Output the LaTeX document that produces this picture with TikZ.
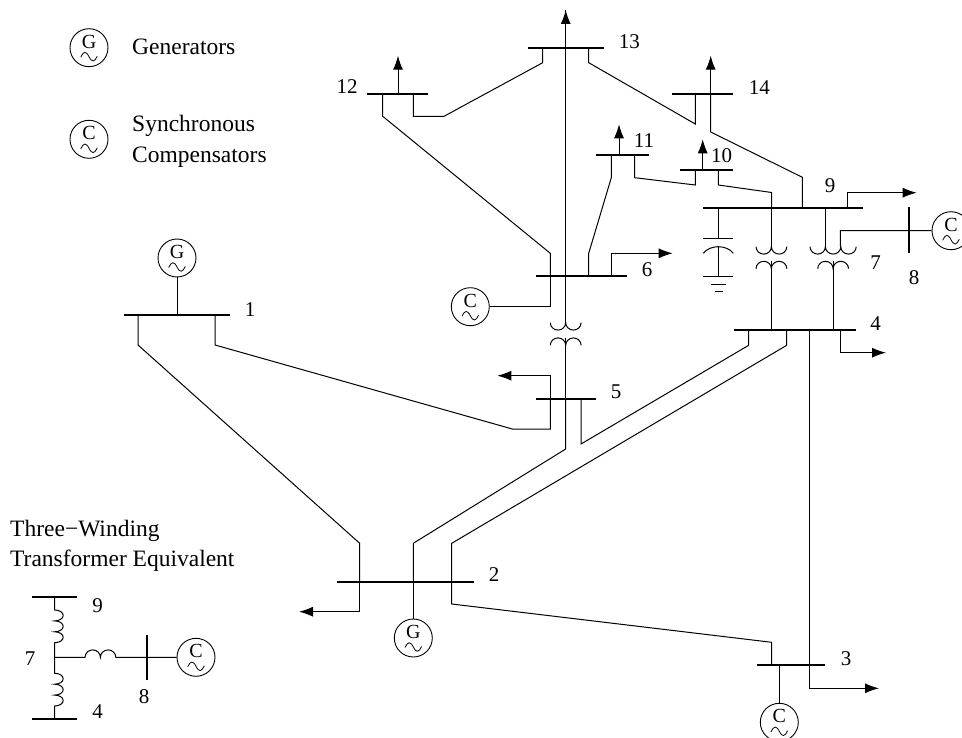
\documentclass[tikz,border=0pt]{standalone}
\usepackage{fontspec}
\setmainfont{Liberation Serif}
\usetikzlibrary{arrows.meta}

\tikzset{
  bar/.style={fill=black, inner sep=0pt, minimum height=2pt},
  vbar/.style={fill=black, inner sep=0pt, minimum width=2.4pt},
  machine/.style={circle, draw, line width=0.9pt, inner sep=0pt, minimum size=38pt,
    font=\fontsize{20}{20}\selectfont, text height=14pt, text depth=13pt},
  wave/.pic={\draw[line width=0.8pt] (-8.3,9.5) .. controls (-5.5,3.5) and (-3,3) .. (0,9)
    .. controls (3,15) and (5.5,14.5) .. (8.3,8.5);},
  lbl/.style={font=\fontsize{21}{21}\selectfont, inner sep=0pt},
  txt/.style={font=\fontsize{23.5}{23.5}\selectfont, inner sep=0pt, anchor=base west},
  wire/.style={line width=1pt},
  loadarrow/.style={line width=1pt, -{Latex[length=14pt, width=10pt]}},
  coilcup/.style={start angle=180, end angle=360, x radius=7.7pt, y radius=7.4pt},
  coilcap/.style={start angle=180, end angle=0, x radius=7.7pt, y radius=7.4pt},
  coildown/.style={start angle=90, end angle=-90, x radius=8.5pt, y radius=5.45pt}
}

\begin{document}
\begin{tikzpicture}[x=1pt, y=-1pt]

\useasboundingbox (0,0) rectangle (962,738);
\clip (0,0) rectangle (962,738);

% bus bars
\node[bar, minimum width=106pt] (bus1) at (177,315) {};
\node[bar, minimum width=137pt] (bus2) at (405.5,581.7) {};
\node[bar, minimum width=68pt] (bus3) at (790.8,665) {};
\node[bar, minimum width=122pt] (bus4) at (794.5,330) {};
\node[bar, minimum width=60pt] (bus5) at (565.8,398.7) {};
\node[bar, minimum width=91pt] (bus6) at (581.2,276.3) {};
\node[vbar, minimum height=46pt] (bus8) at (909,230.5) {};
\node[bar, minimum width=160pt] (bus9) at (783.2,207.7) {};
\node[bar, minimum width=53pt] (bus10) at (706.8,169.7) {};
\node[bar, minimum width=53pt] (bus11) at (622.8,154.7) {};
\node[bar, minimum width=61pt] (bus12) at (397.8,93.7) {};
\node[bar, minimum width=76pt] (bus13) at (565.7,47.7) {};
\node[bar, minimum width=61pt] (bus14) at (702.8,93.7) {};

% machines
\node[machine] (g1) at (177,258) {G};
\node[machine] (g2) at (413.3,638) {G};
\node[machine] (c3) at (779.3,722.3) {C};
\node[machine] (c6) at (470.3,306.7) {C};
\node[machine] (c8) at (951,230.7) {C};
\pic at (g1) {wave};
\pic at (g2) {wave};
\pic at (c3) {wave};
\pic at (c6) {wave};
\pic at (c8) {wave};

% bus numbers
\node[lbl] (n1) at (250,310) {1};
\node[lbl] (n2) at (494,575) {2};
\node[lbl] (n3) at (846,659) {3};
\node[lbl] (n4) at (875.7,323.5) {4};
\node[lbl] (n5) at (616,392) {5};
\node[lbl] (n6) at (647,270) {6};
\node[lbl] (n7) at (875.7,262.7) {7};
\node[lbl] (n8) at (914,277.7) {8};
\node[lbl] (n9) at (830,186) {9};
\node[lbl] (n10) at (721.7,155.7) {10};
\node[lbl] (n11) at (644,140.7) {11};
\node[lbl] (n12) at (347,87) {12};
\node[lbl] (n13) at (629.3,41.7) {13};
\node[lbl] (n14) at (759.3,87.3) {14};

% bends of the lines
\coordinate (a1) at (138,345);
\coordinate (a2) at (359.7,543.3);
\coordinate (b1) at (215,345);
\coordinate (b2) at (512.3,429);
\coordinate (b3) at (550.3,429);
\coordinate (c1) at (413.3,543.3);
\coordinate (c2) at (565.7,449);
\coordinate (d1) at (581,444);
\coordinate (d2) at (748.7,345.3);
\coordinate (e1) at (451.7,543.3);
\coordinate (e2) at (786.7,345.3);
\coordinate (f1) at (451.7,604);
\coordinate (f2) at (771.7,642.3);
\coordinate (h1) at (550.3,253.3);
\coordinate (h2) at (382.7,116.3);
\coordinate (j1) at (588.7,253.3);
\coordinate (j2) at (611.3,177.7);
\coordinate (k1) at (413.3,116.3);
\coordinate (k2) at (444,116.3);
\coordinate (k3) at (542.7,62.7);
\coordinate (l1) at (588.7,62.7);
\coordinate (l2) at (695.3,124);
\coordinate (m1) at (634.7,177.7);
\coordinate (m2) at (695.3,185);
\coordinate (o1) at (718.3,185);
\coordinate (o2) at (771.7,192.5);
\coordinate (p1) at (710.7,132);
\coordinate (p2) at (802.3,177.3);
\coordinate (r1) at (809.7,688.3);

% lines
\draw[wire] (a1 |- bus1) -- (a1) -- (a2) -- (a2 |- bus2);
\draw[wire] (b1 |- bus1) -- (b1) -- (b2) -- (b3) -- (b3 |- bus5);
\draw[wire] (c1 |- bus2) -- (c1) -- (c2) -- (c2 |- bus5);
\draw[wire] (d1 |- bus5) -- (d1) -- (d2) -- (d2 |- bus4);
\draw[wire] (e1 |- bus2) -- (e1) -- (e2) -- (e2 |- bus4);
\draw[wire] (e1 |- bus2) -- (f1) -- (f2) -- (f2 |- bus3);
\draw[wire] (h1 |- bus6) -- (h1) -- (h2) -- (h2 |- bus12);
\draw[wire] (j1 |- bus6) -- (j1) -- (j2) -- (j2 |- bus11);
\draw[wire] (k1 |- bus12) -- (k1) -- (k2) -- (k3) -- (k3 |- bus13);
\draw[wire] (l1 |- bus13) -- (l1) -- (l2) -- (l2 |- bus14);
\draw[wire] (m1 |- bus11) -- (m1) -- (m2) -- (m2 |- bus10);
\draw[wire] (o1 |- bus10) -- (o1) -- (o2) -- (o2 |- bus9);
\draw[wire] (p1 |- bus14) -- (p1) -- (p2) -- (p2 |- bus9);

% machines to buses
\draw[wire] (g1) -- (bus1);
\draw[wire] (c1 |- bus2) -- (g2);
\draw[wire] (c3 |- bus3) -- (c3);
\draw[wire] (h1 |- bus6) -- (h1 |- c6) -- (c6);

% loads
\coordinate (q2) at (299,611.7);
\coordinate (q3) at (879,688.3);
\coordinate (q4) at (886,352.7);
\coordinate (q5) at (497.3,375.7);
\coordinate (q6) at (672.7,253.3);
\coordinate (q9) at (916.7,192.7);
\coordinate (q10) at (702.7,139.3);
\coordinate (q11) at (619,124.3);
\coordinate (q12) at (398,55.7);
\coordinate (q13) at (565.7,10);
\coordinate (q14) at (710.7,55.7);
\draw[loadarrow] (a2 |- bus2) -- (a2 |- q2) -- (q2);
\draw[loadarrow] (r1 |- bus4) -- (r1) -- (q3);
\draw[loadarrow] (840,330) -- (840,352.7) -- (q4);
\draw[loadarrow] (b3 |- bus5) -- (b3 |- q5) -- (q5);
\draw[loadarrow] (611.7,276.3) -- (611.7,253.3) -- (q6);
\draw[loadarrow] (847.7,207.7) -- (847.7,192.7) -- (q9);
\draw[loadarrow] (q10 |- bus10) -- (q10);
\draw[loadarrow] (q11 |- bus11) -- (q11);
\draw[loadarrow] (q12 |- bus12) -- (q12);
\draw[loadarrow] (q13 |- bus13) -- (q13);
\draw[loadarrow] (q14 |- bus14) -- (q14);

% transformer 4-9
\draw[wire] (771.7,192.5) -- (771.7,246.7);
\draw[wire] (756,246.7) arc[coilcup] arc[coilcup];
\draw[wire] (756,268.7) arc[coilcap] arc[coilcap];
\draw[wire] (771.7,261.5) -- (771.7,330);

% transformer 4-7-9 with bus 8
\draw[wire] (825,207.7) -- (825,246.7);
\draw[wire] (810,246.7) arc[coilcup] arc[coilcup] arc[coilcup];
\draw[wire] (817.7,268.7) arc[coilcap] arc[coilcap];
\draw[wire] (833,261.5) -- (833,330);
\draw[wire] (840.3,246.7) -- (840.3,230.7) -- (bus8.center) -- (c8);

% transformer 5-6
\draw[wire] (q13) -- (565.7,322.7);
\draw[wire] (550.3,322.7) arc[coilcup] arc[coilcup];
\draw[wire] (550.3,345.3) arc[coilcap] arc[coilcap];
\draw[wire] (565.7,338) -- (c2);

% capacitor on bus 9
\draw[wire] (718.3,207.7) -- (718.3,238.3);
\draw[wire] (703.3,238.3) -- (733.3,238.3);
\draw[wire] (703.3,253.3) .. controls (710,244.5) and (726.6,244.5) .. (733.3,253.3);
\draw[wire] (718.3,247) -- (718.3,276.7);
\draw[wire] (703.3,276.7) -- (733.3,276.7);
\draw[wire] (710.7,284.3) -- (726,284.3);
\draw[wire] (715,291.7) -- (722.7,291.7);

% legend
\node[machine] (legg) at (89,47.7) {G};
\node[machine] (legc) at (89,139.3) {C};
\pic at (legg) {wave};
\pic at (legc) {wave};
\node[txt] (tgen) at (132,55) {Generators};
\node[txt] (tsyn) at (132,131.7) {Synchronous};
\node[txt] (tcom) at (132,162.3) {Compensators};

% three winding equivalent
\node[txt] (tthr) at (10,536) {Three−Winding};
\node[txt] (ttra) at (10,566) {Transformer Equivalent};
\node[bar, minimum width=45.5pt] (ebus9) at (54.7,596.7) {};
\node[bar, minimum width=45.5pt] (ebus4) at (54.7,719) {};
\node[vbar, minimum height=45pt] (ebus8) at (146.7,657.5) {};
\node[machine] (ec8) at (196,657.3) {C};
\pic at (ec8) {wave};
\coordinate (e7) at (54.7,657.3);
\draw[wire] (ebus9.center) -- (54.7,610) arc[coildown] arc[coildown] arc[coildown] -- (54.7,673.3) arc[coildown] arc[coildown] arc[coildown] -- (ebus4.center);
\draw[wire] (e7) -- (85,657.3) arc[coilcap] arc[coilcap] -- (ec8);
\node[lbl] (en9) at (97.7,606) {9};
\node[lbl] (en7) at (30,658.7) {7};
\node[lbl] (en8) at (144,696.7) {8};
\node[lbl] (en4) at (97.7,712) {4};

\end{tikzpicture}
\end{document}
